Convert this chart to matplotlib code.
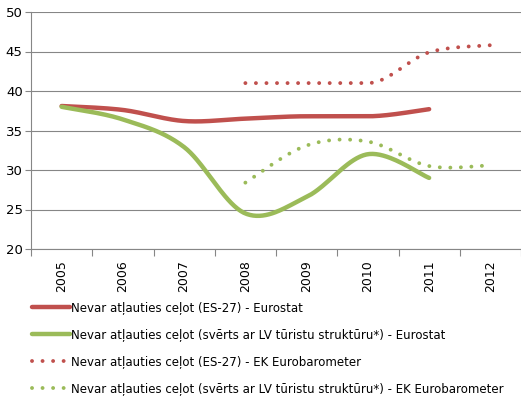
import numpy as np
import matplotlib
matplotlib.use('Agg')
import matplotlib.pyplot as plt

# Data
years = ['2005', '2006', '2007', '2008', '2009', '2010', '2011', '2012']
eurostat_es27 = [38.1, 37.6, 36.2, 36.5, 36.8, 36.8, 37.7, None]
eurostat_lv = [38.0, 36.4, 32.9, 24.5, 26.6, 32.0, 29.0, None]
eb_es27 = [None, None, None, 41.0, 41.0, 41.0, 44.9, 45.8]
eb_lv = [None, None, None, 28.4, 33.1, 33.6, 30.5, 30.6]

labels = [
    'Nevar atļauties ceļot (ES-27) - Eurostat',
    'Nevar atļauties ceļot (svērts ar LV tūristu struktūru*) - Eurostat',
    'Nevar atļauties ceļot (ES-27) - EK Eurobarometer',
    'Nevar atļauties ceļot (svērts ar LV tūristu struktūru*) - EK Eurobarometer',
]

RED = '#C0504D'
GREEN = '#9BBB59'
GRID = '#868686'


def smooth(values, n=40):
    """ Excel-like smoothed line: Bezier segments with 1/6 tangents. """
    pts = [(i, v) for i, v in enumerate(values) if v is not None]
    p = np.array(pts, dtype=float)
    m = len(p)
    # tangents, flattened where a neighbour has the same value
    tan = []
    for i in range(m):
        d = (p[min(i + 1, m - 1)] - p[max(i - 1, 0)]) / 6
        if (i > 0 and p[i, 1] == p[i - 1, 1]) or (i < m - 1 and p[i, 1] == p[i + 1, 1]):
            d[1] = 0
        tan.append(d)
    xs, ys = [], []
    t = np.linspace(0, 1, n)[:, None]
    for i in range(m - 1):
        p1, p2 = p[i], p[i + 1]
        b1 = p1 + tan[i]
        b2 = p2 - tan[i + 1]
        c = (1 - t) ** 3 * p1 + 3 * (1 - t) ** 2 * t * b1 \
            + 3 * (1 - t) * t ** 2 * b2 + t ** 3 * p2
        xs.extend(c[:, 0])
        ys.extend(c[:, 1])
    return np.array(xs), np.array(ys)


fig = plt.figure(figsize=(5.21, 3.98), dpi=100)
ax = fig.add_axes([31 / 521, 1 - 249 / 398, 490 / 521, 237 / 398])

x, y = smooth(eurostat_es27)
l1, = ax.plot(x, y, color=RED, lw=3.2, solid_capstyle='round', label=labels[0])
x, y = smooth(eurostat_lv)
l2, = ax.plot(x, y, color=GREEN, lw=3.2, solid_capstyle='round', label=labels[1])
x, y = smooth(eb_es27)
l3, = ax.plot(x, y, color=RED, lw=2.8, dash_capstyle='round',
              linestyle=(0, (0.01, 2.7)), label=labels[2])
x, y = smooth(eb_lv)
l4, = ax.plot(x, y, color=GREEN, lw=2.8, dash_capstyle='round',
              linestyle=(0, (0.01, 2.7)), label=labels[3])

ax.set_xlim(-0.5, 7.5)
ax.set_ylim(20, 50)
ax.set_yticks(range(20, 51, 5))
ax.set_xticks(range(len(years)))
ax.set_xticklabels(years, rotation=90, fontsize=9)
ax.set_xticks(np.arange(-0.5, 8, 1), minor=True)
ax.tick_params(axis='x', which='major', length=0, pad=8)
ax.tick_params(axis='x', which='minor', length=5, color=GRID, width=0.8)
ax.tick_params(axis='y', length=4, color=GRID, width=0.8, labelsize=9.5, pad=2)
ax.grid(axis='y', color=GRID, lw=0.8)
ax.set_axisbelow(True)
for s in ['top', 'right']:
    ax.spines[s].set_visible(False)
for s in ['left', 'bottom']:
    ax.spines[s].set_color(GRID)
    ax.spines[s].set_linewidth(0.8)

fig.legend(handles=[l1, l2, l3, l4], loc='upper left',
           bbox_to_anchor=(27 / 521, 1 - 296 / 398), frameon=False,
           fontsize=8.5, handlelength=3.2, handletextpad=0.15, labelspacing=1.2,
           borderaxespad=0)

fig.savefig('out.png', dpi=100)
